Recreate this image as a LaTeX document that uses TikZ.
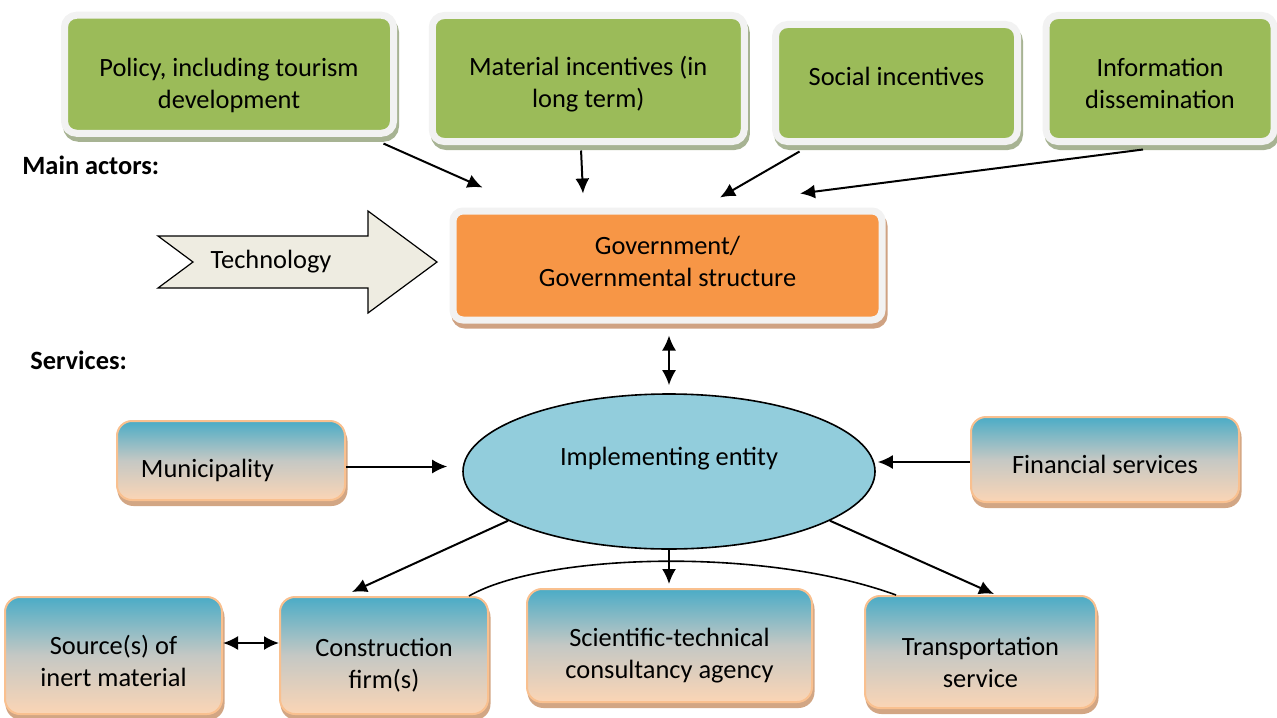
\documentclass[tikz,border=0pt]{standalone}
\usepackage{fontspec}
\setmainfont{Carlito}
\usepackage{tikz}
\usetikzlibrary{arrows.meta}
\usetikzlibrary{shapes.geometric}
\usetikzlibrary{shadows}
\definecolor{leafgreen}{HTML}{9BBB59}
\definecolor{framegray}{HTML}{F2F2F2}
\definecolor{leafshadow}{HTML}{A7B393}
\definecolor{govorange}{HTML}{F79646}
\definecolor{govshadow}{HTML}{CFA282}
\definecolor{entityblue}{HTML}{92CDDC}
\definecolor{servtop}{HTML}{4BACC6}
\definecolor{servmid}{HTML}{C5C8C4}
\definecolor{servbot}{HTML}{FBD5B5}
\definecolor{servedge}{HTML}{F9C08F}
\definecolor{servshadow}{HTML}{D2A684}
\definecolor{techfill}{HTML}{EEECE1}
\tikzset{>=Latex}
% struts that push a label down (top) or up (bottom) inside its box
\newcommand{\tpad}[1]{\rule{0pt}{#1}}
\newcommand{\bpad}[1]{\rule[-#1]{0pt}{#1}}

\begin{document}
\begin{tikzpicture}[x=0.5pt, y=-0.5pt,
	every node/.style={font=\fontsize{13.2}{16}\selectfont},
	heading/.style={anchor=base west, inner sep=0pt, font=\fontsize{13.2}{16}\selectfont\bfseries},
	framed/.style={rectangle, draw=framegray, line width=3.5pt, align=center},
	actor/.style={framed, rounded corners=6pt, fill=leafgreen,
		general shadow={fill=leafshadow, draw=leafshadow, shadow xshift=1pt, shadow yshift=-2.5pt}},
	govbox/.style={framed, rounded corners=5pt, fill=govorange,
		general shadow={fill=govshadow, draw=govshadow, shadow xshift=1pt, shadow yshift=-2.5pt}},
	service/.style={rectangle, rounded corners=7.5pt, draw=servedge, line width=1pt, align=center,
		top color=servtop, bottom color=servbot, middle color=servmid,
		general shadow={fill=servshadow, draw=servshadow, shadow xshift=.75pt, shadow yshift=-2.5pt}},
	entity/.style={ellipse, draw, line width=.8pt, fill=entityblue, inner sep=0pt},
	techarrow/.style={draw, line width=.6pt, fill=techfill},
	arr/.style={line width=1pt, -{Latex[length=7.5pt,width=7pt]}},
	dbl/.style={line width=1pt, {Latex[length=7.5pt,width=7pt]}-{Latex[length=7.5pt,width=7pt]}}]
	\useasboundingbox (0,0) rectangle (1277,717);

	% main actors
	\node[actor, minimum width=164.5pt, minimum height=59pt] (policy) at (229,74.25) {\tpad{20.5pt}Policy, including tourism\\development};
	\node[actor, minimum width=156pt, minimum height=63pt] (material) at (588.25,78.5) {\tpad{15.5pt}Material incentives (in\\long term)};
	\node[actor, minimum width=121pt, minimum height=58.5pt] (social) at (896.5,83) {Social incentives\bpad{6.6pt}};
	\node[actor, minimum width=114pt, minimum height=63pt] (info) at (1160,78.5) {\tpad{14.5pt}Information\\dissemination};
	\node[govbox, minimum width=214.5pt, minimum height=54.5pt] (gov) at (667.5,265.5) {Government/\\Governmental structure\bpad{4.2pt}};

	\node[heading] (mainact) at (22,174) {Main actors:};
	\node[heading] (serv) at (30,369) {Services:};

	% technology arrow
	\draw[techarrow] (158,236) -- (368,236) -- (368,211) -- (437,262) -- (368,313) -- (368,288) -- (158,288) -- (193,262) -- cycle;
	\node (tech) at (271,262) {Technology};

	% services
	\node[entity, minimum width=206pt, minimum height=77.5pt] (ell) at (669,471.5) {Implementing entity\bpad{15pt}};
	\node[service, minimum width=114pt, minimum height=39.5pt] (muni) at (231,460.5) {\tpad{19pt}Municipality\hspace{23.5pt}};
	\node[service, minimum width=134pt, minimum height=42.5pt] (fin) at (1105,459.5) {\tpad{14pt}Financial services};
	\node[service, minimum width=108.5pt, minimum height=58.5pt] (src) at (113.5,655.5) {\tpad{15.5pt}Source(s) of\\inert material};
	\node[service, minimum width=104pt, minimum height=58.5pt] (cons) at (384,655.5) {\tpad{18.5pt}Construction\\firm(s)};
	\node[service, minimum width=142.5pt, minimum height=56.5pt] (sci) at (669.5,645.5) {\tpad{19pt}Scientific-technical\\consultancy agency};
	\node[service, minimum width=115.5pt, minimum height=56pt] (trans) at (980.5,652) {\tpad{19.5pt}Transportation\\service};

	% connectors
	\draw[arr] ([xshift=-6.75pt,yshift=-3.4pt]policy.south east) -- ([xshift=16.5pt,yshift=10pt]gov.north west);
	\draw[arr] ([xshift=-3.6pt,yshift=-2.75pt]material.south) -- ([xshift=-42.25pt,yshift=7pt]gov.north);
	\draw[arr] ([xshift=13.75pt,yshift=-3.25pt]social.south west) -- ([xshift=26.25pt,yshift=5pt]gov.north);
	\draw[arr] ([xshift=-8.5pt,yshift=-2.25pt]info.south) -- ([xshift=66.25pt,yshift=7pt]gov.north);
	\draw[dbl, shorten <=6pt, shorten >=4pt] (gov.south -| ell.north) -- (ell.north);
	\draw[arr] ([yshift=-3pt]muni.east) -- ([xshift=-7.5pt,yshift=2.5pt]ell.west);
	\draw[arr] ([yshift=-1.25pt]fin.west) -- ([xshift=1pt,yshift=4.75pt]ell.east);
	\draw[arr] (ell.197) -- ([xshift=-16pt,yshift=2pt]cons.north);
	\draw[arr, shorten >=2pt] (ell.south) -- (ell.south |- sci.north);
	\draw[arr] (ell.-17) -- ([xshift=6.75pt,yshift=.5pt]trans.north);
	\draw[dbl] ([yshift=6.25pt]src.east) -- ([yshift=6.25pt]cons.west);
	\draw[line width=.8pt] ([xshift=-10pt]cons.north east) .. controls +(30:42pt) and +(160:72pt) .. ([xshift=16pt]trans.north west);
\end{tikzpicture}
\end{document}
